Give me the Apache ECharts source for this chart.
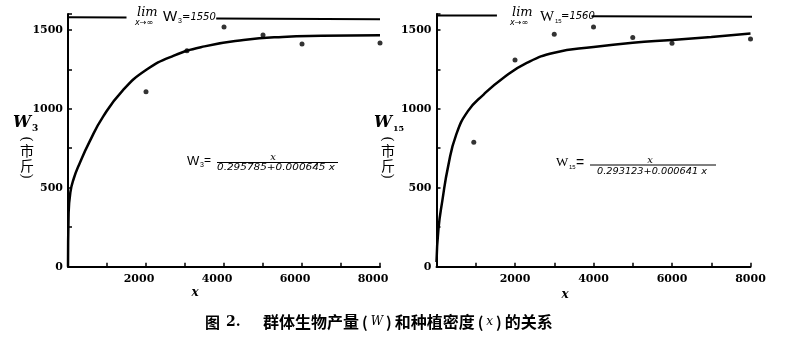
<!DOCTYPE html>
<html><head><meta charset="utf-8">
<script src="https://cdn.jsdelivr.net/npm/echarts@6/dist/echarts.min.js"></script>
<style>html,body{margin:0;padding:0;background:#fff}#c{width:792px;height:349px}</style>
</head><body><div id="c"></div>
<script>
// ---- data ----
const xTickLabels = [2000, 4000, 6000, 8000];
const yTickLabels = [0, 500, 1000, 1500];

// Left panel (W3)
const leftDotX = [2000, 3050, 4000, 5000, 6000, 8000];
const leftDotY = [1108, 1367, 1518, 1467, 1410, 1416];
const leftCurveX = [0, 15, 60, 150, 300, 550, 900, 1400, 2000, 2700, 3500, 4500, 5500, 6500, 8000];
const leftCurveY = [0, 330, 470, 560, 655, 790, 950, 1115, 1245, 1335, 1395, 1435, 1455, 1462, 1466];
const leftLimitX1 = [0, 1500];
const leftLimitY1 = [1580, 1578];
const leftLimitX2 = [3800, 8000];
const leftLimitY2 = [1572, 1566];

// Right panel (W15)
const rightDotX = [950, 2000, 3000, 4000, 5000, 6000, 8000];
const rightDotY = [788, 1308, 1472, 1517, 1451, 1415, 1442];
const rightCurveX = [0, 50, 150, 300, 500, 800, 1200, 1700, 2300, 3000, 4000, 5000, 6000, 7000, 8000];
const rightCurveY = [30, 240, 420, 640, 835, 985, 1090, 1195, 1290, 1355, 1391, 1418, 1436, 1455, 1476];
const rightLimitX1 = [0, 1540];
const rightLimitY1 = [1590, 1590];
const rightLimitX2 = [3950, 8180];
const rightLimitY2 = [1585, 1582];

const zip = (a, b) => a.map((v, i) => [v, b[i]]);

// ---- chart ----
const chart = echarts.init(document.getElementById('c'), null, {renderer: 'canvas'});
const numFont = 'DejaVu Serif';

function xAx(g, pad) {
  return {
    type: 'value', gridIndex: g, min: 0, max: 8000, interval: 1000,
    axisLine: {show: true, onZero: false, lineStyle: {color: '#000', width: 2}},
    axisTick: {show: true, inside: true, length: 4, lineStyle: {color: '#000', width: 1.5}},
    axisLabel: {formatter: v => xTickLabels.includes(v) ? String(v) : '', fontFamily: numFont, fontWeight: 'bold', fontSize: 11, color: '#000', margin: 7, padding: pad},
    splitLine: {show: false}
  };
}
function yAx(g) {
  return {
    type: 'value', gridIndex: g, min: 0, max: 1600, interval: 250,
    axisLine: {show: true, onZero: false, lineStyle: {color: '#000', width: 2}},
    axisTick: {show: true, inside: true, length: 4, lineStyle: {color: '#000', width: 1.5}},
    axisLabel: {formatter: v => yTickLabels.includes(v) ? String(v) : '', fontFamily: numFont, fontWeight: 'bold', fontSize: 11, color: '#000', margin: 5},
    splitLine: {show: false}
  };
}
function curve(i, data) {
  return {type: 'line', xAxisIndex: i, yAxisIndex: i, data, showSymbol: false, smooth: 0.5,
    lineStyle: {color: '#000', width: 2.5}, silent: true};
}
function seg(i, data) {
  return {type: 'line', xAxisIndex: i, yAxisIndex: i, data, showSymbol: false, clip: false,
    lineStyle: {color: '#000', width: 2}, silent: true};
}
function dots(i, data) {
  return {type: 'scatter', xAxisIndex: i, yAxisIndex: i, data, symbol: 'circle', symbolSize: 5,
    itemStyle: {color: '#000'}, silent: true};
}

const mctx = document.createElement('canvas').getContext('2d');
function fitScale(text, font, target) { mctx.font = font; return target / mctx.measureText(text).width; }

function T(x, y, text, size, opt) {
  opt = opt || {};
  return {type: 'text', x, y, scaleX: opt.scaleX || 1, rotation: opt.rotation || 0, silent: true,
    style: {text, fill: '#000', fontSize: size, fontFamily: opt.family || 'Liberation Sans',
      fontStyle: opt.style || 'normal', fontWeight: opt.weight || 'normal',
      align: opt.align || 'left', verticalAlign: 'middle', rich: opt.rich}};
}
function L(x1, y1, x2, y2, w) {
  return {type: 'line', silent: true, shape: {x1, y1, x2, y2}, style: {stroke: '#000', lineWidth: w || 1}};
}
function unitLabel(cx) {
  const f = {family: 'Noto Sans CJK SC', align: 'center'};
  const p = {family: 'Liberation Serif', align: 'center'};
  return [
    T(cx, 139, '(', 14, Object.assign({rotation: -Math.PI / 2}, p)),
    T(cx, 151, '市', 14, f),
    T(cx, 166, '斤', 14, f),
    T(cx, 176, ')', 14, Object.assign({rotation: -Math.PI / 2}, p))
  ];
}

const den1 = '0.295785+0.000645 x';
const den2 = '0.293123+0.000641 x';
const denFont = 'italic 8px "DejaVu Sans"';

const graphics = [
  T(13, 123, 'W', 16, {family: 'DejaVu Serif', style: 'italic', weight: 'bold'}),
  T(32, 129, '3', 9, {family: 'DejaVu Serif', weight: 'bold'}),
  ...unitLabel(27),
  T(374, 123, 'W', 16, {family: 'DejaVu Serif', style: 'italic', weight: 'bold'}),
  T(393, 129, '15', 8, {family: 'DejaVu Serif', weight: 'bold'}),
  ...unitLabel(388),
  T(195, 293, 'x', 12, {family: 'DejaVu Serif', style: 'italic', weight: 'bold', align: 'center'}),
  T(565, 295, 'x', 12, {family: 'DejaVu Serif', style: 'italic', weight: 'bold', align: 'center'}),
  T(137, 13, 'lim', 13, {family: 'DejaVu Serif', style: 'italic'}),
  T(135, 23, 'x→∞', 8, {family: 'DejaVu Sans', style: 'italic'}),
  T(163, 17, 'W', 15),
  T(178, 21, '3', 7),
  T(182, 17, '=1550', 10, {family: 'DejaVu Sans', style: 'italic'}),
  T(512, 13, 'lim', 13, {family: 'DejaVu Serif', style: 'italic'}),
  T(510, 23, 'x→∞', 8, {family: 'DejaVu Sans', style: 'italic'}),
  T(540, 17, 'W', 15, {family: 'Liberation Serif'}),
  T(555, 21, '15', 6),
  T(561, 16, '=1560', 10, {family: 'DejaVu Sans', style: 'italic'}),
  T(187, 161, 'W', 13),
  T(200, 165, '3', 7),
  T(204, 161, '=', 12),
  L(217, 162.5, 338, 162.5, 1),
  T(273, 157, 'x', 10, {family: 'DejaVu Serif', style: 'italic', align: 'center'}),
  T(217, 167.5, den1, 8, {family: 'DejaVu Sans', style: 'italic', scaleX: fitScale(den1, denFont, 118)}),
  T(556, 163, 'W', 13, {family: 'Liberation Serif'}),
  T(569, 167, '15', 6),
  T(576, 163, '=', 14),
  L(590, 165, 716, 165, 1),
  T(650, 160, 'x', 10, {family: 'DejaVu Serif', style: 'italic', align: 'center'}),
  T(597, 171.5, den2, 8, {family: 'DejaVu Sans', style: 'italic', scaleX: fitScale(den2, denFont, 110)}),
  T(205, 322, '图', 15, {family: 'Noto Sans CJK SC', weight: 'bold'}),
  T(226, 322, '2.', 14, {family: 'DejaVu Serif', weight: 'bold'}),
  T(263, 322, '{c|群体生物产量}{p|(}{i|W}{p|)}{c|和种植密度}{p|(}{i|x}{p|)}{c|的关系}', 15, {
    rich: {
      c: {fontFamily: 'Noto Sans CJK SC', fontWeight: 'bold', fontSize: 16, fill: '#000'},
      p: {fontFamily: 'Noto Sans CJK SC', fontWeight: 'bold', fontSize: 15, padding: [0, 3, 0, 3], fill: '#000'},
      i: {fontFamily: 'DejaVu Serif', fontStyle: 'italic', fontSize: 12, fill: '#000'}
    }
  })
];

chart.setOption({
  animation: false,
  backgroundColor: '#fff',
  grid: [
    {left: 68, top: 14, width: 312, height: 252.7},
    {left: 436.5, top: 14, width: 314, height: 252.7}
  ],
  xAxis: [xAx(0, [0, 14, 0, 0]), xAx(1, [0, 0, 0, 0])],
  yAxis: [yAx(0), yAx(1)],
  series: [
    curve(0, zip(leftCurveX, leftCurveY)),
    dots(0, zip(leftDotX, leftDotY)),
    seg(0, zip(leftLimitX1, leftLimitY1)),
    seg(0, zip(leftLimitX2, leftLimitY2)),
    curve(1, zip(rightCurveX, rightCurveY)),
    dots(1, zip(rightDotX, rightDotY)),
    seg(1, zip(rightLimitX1, rightLimitY1)),
    seg(1, zip(rightLimitX2, rightLimitY2))
  ],
  graphic: graphics
});
</script>
</body></html>
